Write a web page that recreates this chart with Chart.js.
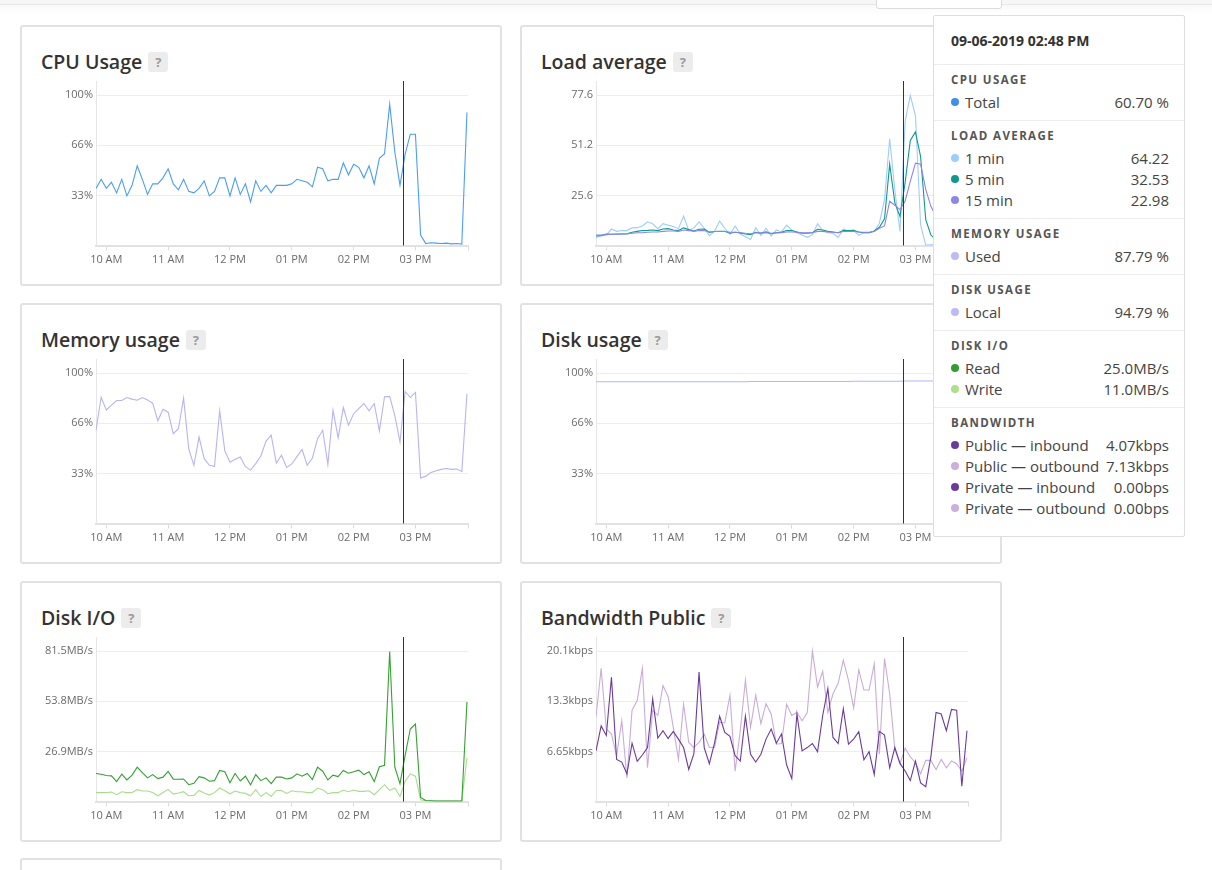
<!DOCTYPE html>
<html>
<head>
<meta charset="utf-8">
<title>Droplet graphs</title>
<script src="https://cdn.jsdelivr.net/npm/chart.js@4.4.0/dist/chart.umd.min.js"></script>
<style>
  html, body { margin: 0; padding: 0; background: #fff; overflow: hidden; }
  body { width: 1212px; height: 870px; position: relative; font-family: 'Open Sans', Lato, sans-serif; }
  .topbar { position: absolute; left: 0; top: 0; width: 1212px; height: 4px; background: #f6f6f6; border-bottom: 1px solid #e7e7e7; }
  .topshade { position: absolute; left: 0; top: 5px; width: 1212px; height: 10px; background: linear-gradient(rgba(0,0,0,0.025), rgba(0,0,0,0)); }
  .topbox { position: absolute; left: 876px; top: -4px; width: 124px; height: 11px; background: #fff; border: 1px solid #dcdcdc; border-radius: 0 0 3px 3px; }
  .panel { position: absolute; width: 482px; height: 261px; box-sizing: border-box; border: 2px solid #e2e2e2; border-radius: 3px; background: #fff; }
  .head { position: absolute; left: 19px; top: 25px; height: 20px; display: flex; align-items: center; white-space: nowrap; }
  .head .t { font-weight: 600; font-size: 19.5px; line-height: 20px; color: #333; }
  .help { margin-left: 6px; width: 20px; height: 20px; background: #ececec; border-radius: 3px; color: #9a9a9a; font-weight: 700; font-size: 13px; line-height: 20px; text-align: center; }
  .plot { position: absolute; left: -2px; top: 50px; width: 482px; height: 195px; }
  .tip { position: absolute; left: 933px; top: 15px; width: 252px; height: 522px; box-sizing: border-box; border: 1px solid #dedede; border-radius: 2px; background: #fff; color: #444; }
  .tip .date { position: absolute; left: 17px; height: 20px; line-height: 20px; font-size: 14px; font-weight: 700; color: #333; }
  .tip .sep { position: absolute; left: 0; right: 0; height: 1px; background: #ececec; }
  .tip .sec { position: absolute; left: 17px; height: 20px; line-height: 20px; font-size: 11.5px; font-weight: 700; letter-spacing: 1.4px; color: #555; }
  .tip .row { position: absolute; left: 31px; right: 15px; height: 20px; line-height: 20px; font-size: 15px; color: #444; white-space: nowrap; }
  .tip .row i { position: absolute; left: -14px; top: 6px; width: 8px; height: 8px; border-radius: 50%; }
  .tip .row b { position: absolute; right: 0; top: 0; font-weight: 400; }
</style>
</head>
<body>
<div class="topbar"></div>
<div class="topshade"></div>
<div class="topbox"></div>

<div class="panel" style="left:20px;top:25px">
  <div class="head"><span class="t">CPU Usage</span><span class="help">?</span></div>
  <div class="plot"><canvas id="cpu-chart"></canvas></div>
</div>
<div class="panel" style="left:520px;top:25px">
  <div class="head"><span class="t">Load average</span><span class="help">?</span></div>
  <div class="plot"><canvas id="load-chart"></canvas></div>
</div>
<div class="panel" style="left:20px;top:303px">
  <div class="head"><span class="t">Memory usage</span><span class="help">?</span></div>
  <div class="plot"><canvas id="memory-chart"></canvas></div>
</div>
<div class="panel" style="left:520px;top:303px">
  <div class="head"><span class="t">Disk usage</span><span class="help">?</span></div>
  <div class="plot"><canvas id="disk-chart"></canvas></div>
</div>
<div class="panel" style="left:20px;top:581px">
  <div class="head"><span class="t">Disk I/O</span><span class="help">?</span></div>
  <div class="plot"><canvas id="io-chart"></canvas></div>
</div>
<div class="panel" style="left:520px;top:581px">
  <div class="head"><span class="t">Bandwidth Public</span><span class="help">?</span></div>
  <div class="plot"><canvas id="bandwidth-chart"></canvas></div>
</div>
<div class="panel" style="left:20px;top:858px"></div>

<div class="tip">
  <div class="date" style="top:15px">09-06-2019 02:48 PM</div>
  <div class="sep" style="top:48px"></div>
  <div class="sec" style="top:54px">CPU USAGE</div>
  <div class="row" style="top:76px"><i style="background:#3d8fe8"></i>Total<b>60.70 %</b></div>
  <div class="sep" style="top:104px"></div>
  <div class="sec" style="top:110px">LOAD AVERAGE</div>
  <div class="row" style="top:132px"><i style="background:#9dcdfc"></i>1 min<b>64.22</b></div>
  <div class="row" style="top:153px"><i style="background:#10998a"></i>5 min<b>32.53</b></div>
  <div class="row" style="top:174px"><i style="background:#8c86ea"></i>15 min<b>22.98</b></div>
  <div class="sep" style="top:202px"></div>
  <div class="sec" style="top:208px">MEMORY USAGE</div>
  <div class="row" style="top:230px"><i style="background:#bdbaf6"></i>Used<b>87.79 %</b></div>
  <div class="sep" style="top:258px"></div>
  <div class="sec" style="top:264px">DISK USAGE</div>
  <div class="row" style="top:286px"><i style="background:#bdbaf6"></i>Local<b>94.79 %</b></div>
  <div class="sep" style="top:314px"></div>
  <div class="sec" style="top:320px">DISK I/O</div>
  <div class="row" style="top:342px"><i style="background:#2f9e2f"></i>Read<b>25.0MB/s</b></div>
  <div class="row" style="top:363px"><i style="background:#aedf8c"></i>Write<b>11.0MB/s</b></div>
  <div class="sep" style="top:391px"></div>
  <div class="sec" style="top:397px">BANDWIDTH</div>
  <div class="row" style="top:419px"><i style="background:#6a3b9c"></i>Public — inbound<b>4.07kbps</b></div>
  <div class="row" style="top:440px"><i style="background:#cbb0dc"></i>Public — outbound<b>7.13kbps</b></div>
  <div class="row" style="top:461px"><i style="background:#6a3b9c"></i>Private — inbound<b>0.00bps</b></div>
  <div class="row" style="top:482px"><i style="background:#cbb0dc"></i>Private — outbound<b>0.00bps</b></div>
</div>

<script>
// time axis, minutes since midnight (09:50 -> 15:51), one sample every 5 min
const startMinute = 590;
const stepMinutes = 5;
const endMinute = 951;
const hoverMinute = 888; // 02:48 PM

const hourTicks = [600, 660, 720, 780, 840, 900];
const hourLabels = ['10 AM', '11 AM', '12 PM', '01 PM', '02 PM', '03 PM'];

// y axis tick labels (three lines per graph, the top one is the value in *Top)
const percentLabels = ['33%', '66%', '100%'];
const percentTop = 100;
const loadLabels = ['25.6', '51.2', '77.6'];
const loadTop = 77.6;
const ioLabels = ['26.9MB/s', '53.8MB/s', '81.5MB/s'];
const ioTop = 81.5;
const bandwidthLabels = ['6.65kbps', '13.3kbps', '20.1kbps'];
const bandwidthTop = 20.1;

const cpuTotal = [38, 44, 38, 42, 35, 44, 33, 40, 53, 44,
  34, 41, 41, 45, 51, 41, 37, 44, 36, 35,
  38, 43, 33, 36, 45, 45, 33, 45, 34, 41,
  29, 43, 36, 40, 35, 40, 40, 40, 41, 44,
  43, 42, 39, 52, 51, 43, 44, 44, 55, 47,
  54, 52, 45, 53, 41, 58, 61, 94, 62, 40,
  60.7, 74, 74, 7, 1.3, 1.8, 1.6, 1.3, 1.6, 1.1,
  1.3, 0.9, 88.5];

const load1 = [4.2, 4.9, 5.4, 8.5, 7.3, 7.7, 7.7, 9.1, 9.2, 10.1,
  12.2, 11.2, 8.7, 11.3, 10.5, 9.8, 8.7, 15.2, 7.7, 9.1,
  12.2, 8.9, 5.1, 7.3, 12.6, 8.9, 5.8, 10.1, 5.9, 4.5,
  3.1, 9.2, 5.1, 8.9, 4.9, 8.0, 7.0, 10.5, 8.0, 6.6,
  5.4, 4.2, 5.6, 11.2, 7.7, 6.6, 6.3, 4.2, 8.5, 7.3,
  8.0, 5.2, 6.6, 6.6, 7.3, 11.5, 23.7, 55.1, 28.5, 7.2,
  64.2, 77.4, 67.0, 10.6, 0.2, 0.4, 0.3, 0.5, 0.4, 0.6,
  0.5, 0.8, 14.0];
const load5 = [4.9, 5.2, 5.9, 5.8, 5.9, 5.9, 6.1, 6.8, 7.3, 7.7,
  7.8, 8.0, 7.7, 8.5, 8.7, 8.0, 7.7, 9.1, 8.2, 7.5,
  8.4, 8.5, 6.8, 7.2, 7.3, 7.3, 6.3, 6.8, 6.5, 5.9,
  5.6, 6.8, 6.3, 7.0, 6.1, 6.6, 6.8, 7.7, 7.7, 7.0,
  6.3, 6.3, 6.6, 8.4, 8.0, 7.3, 7.0, 6.6, 7.7, 7.7,
  7.8, 7.0, 6.6, 6.6, 7.5, 9.4, 13.8, 42.0, 22.0, 15.0,
  32.5, 54.2, 58.6, 45.9, 13.3, 5.4, 2.8, 2.0, 1.6, 1.3,
  1.1, 1.0, 4.5];
const load15 = [5.4, 5.4, 5.6, 5.8, 5.8, 5.9, 5.9, 6.3, 6.6, 6.6,
  6.8, 7.0, 7.0, 7.3, 7.5, 7.5, 7.3, 8.0, 7.7, 7.3,
  7.7, 7.7, 7.0, 7.2, 7.2, 7.2, 6.8, 6.8, 6.6, 6.3,
  6.1, 6.6, 6.5, 6.6, 6.3, 6.5, 6.6, 7.0, 7.0, 6.8,
  6.5, 6.5, 6.6, 7.3, 7.3, 7.0, 6.8, 6.6, 7.2, 7.2,
  7.3, 7.0, 6.8, 6.8, 7.3, 8.9, 10.1, 22.8, 20.8, 18.5,
  23.0, 33.1, 42.5, 42.0, 29.0, 20.2, 15.0, 12.0, 10.0, 9.0,
  8.0, 7.5, 7.0];

const memoryUsed = [62, 84, 75.5, 78.7, 81.8, 81.8, 83.8, 82.7, 82, 83.8,
  82.2, 80, 68.3, 76, 74, 59.8, 63, 83.4, 49.7, 38.7,
  57.5, 43.1, 38.7, 38, 75, 48.3, 40.7, 42.7, 44.3, 37.8,
  35.5, 39.8, 44.9, 54.8, 58.7, 40.2, 45.4, 37.3, 39.6, 44.5,
  49.2, 38.7, 43.6, 56.4, 62, 39.3, 75.3, 56.9, 77.1, 65.4,
  73, 76.4, 79.8, 75, 79.8, 61.6, 84.3, 84.5, 71.7, 54.2,
  87.8, 83.8, 87.2, 30.3, 31.5, 33.9, 35.1, 36, 36.6, 36,
  36.2, 34.6, 86.3];

const diskLocal = [94.3, 94.3, 94.3, 94.3, 94.3, 94.3, 94.3, 94.3, 94.3, 94.3,
  94.3, 94.3, 94.3, 94.3, 94.3, 94.3, 94.3, 94.3, 94.3, 94.3,
  94.3, 94.3, 94.3, 94.3, 94.3, 94.3, 94.3, 94.3, 94.3, 94.3,
  94.4, 94.4, 94.4, 94.4, 94.4, 94.4, 94.4, 94.4, 94.4, 94.4,
  94.4, 94.4, 94.4, 94.4, 94.4, 94.4, 94.4, 94.4, 94.4, 94.4,
  94.6, 94.6, 94.6, 94.6, 94.6, 94.6, 94.6, 94.6, 94.6, 94.6,
  94.8, 94.8, 94.8, 94.8, 94.8, 94.8, 94.8, 94.8, 94.8, 94.8,
  94.8, 94.8, 94.8];

const diskRead = [15.2, 14.8, 14.1, 13.9, 10.8, 14.8, 11.7, 14.3, 18.6, 15.7,
  12.8, 14.6, 12.4, 13.2, 16.3, 12.1, 12.1, 12.2, 9.1, 9.9,
  13.5, 12.8, 11.0, 11.3, 16.8, 16.1, 10.2, 15.2, 11.1, 13.7,
  9.0, 14.6, 11.3, 12.8, 9.7, 13.2, 13.2, 12.2, 12.8, 15.0,
  13.7, 15.2, 11.9, 18.6, 16.4, 11.7, 14.3, 13.5, 16.8, 15.3,
  16.1, 17.0, 14.6, 16.1, 10.8, 18.8, 19.6, 81.3, 18.6, 9.7,
  25.0, 39.3, 42.0, 2.2, 0.5, 0.4, 0.2, 0.2, 0.2, 0.2,
  0.2, 0.2, 53.9];
const diskWrite = [4.8, 4.8, 4.9, 5.1, 3.7, 5.3, 4.8, 4.9, 6.4, 5.7,
  5.7, 4.9, 3.1, 4.9, 6.6, 4.0, 4.6, 5.3, 3.1, 3.3,
  6.0, 4.6, 3.5, 4.8, 7.3, 5.8, 4.2, 5.7, 4.8, 4.4,
  3.1, 6.4, 2.7, 4.8, 2.7, 6.0, 6.0, 4.4, 5.8, 5.3,
  5.3, 4.8, 4.9, 7.3, 6.4, 4.2, 4.8, 4.8, 6.2, 5.3,
  6.2, 5.5, 5.5, 5.8, 3.7, 6.4, 9.1, 6.0, 7.3, 2.7,
  11.0, 15.0, 13.7, 0.9, 0.4, 0.2, 0.2, 0.2, 0.2, 0.2,
  0.2, 0.2, 23.8];

const publicIn = [6.76, 10.1, 8.83, 16.6, 5.63, 5.27, 3.70, 7.80, 5.36, 6.22,
  7.21, 13.7, 8.47, 9.46, 8.43, 9.37, 8.34, 7.21, 4.28, 6.40,
  17.3, 7.21, 5.05, 7.80, 11.4, 9.24, 8.70, 6.13, 5.41, 11.4,
  6.31, 5.27, 6.31, 8.34, 9.69, 7.80, 9.01, 4.87, 3.06, 11.7,
  6.76, 7.21, 7.75, 6.67, 11.5, 15.1, 8.56, 7.75, 12.4, 7.66,
  8.34, 9.33, 5.59, 6.67, 3.61, 9.37, 8.88, 4.51, 7.21, 5.09,
  4.07, 2.79, 5.41, 2.48, 1.98, 6.04, 11.9, 11.7, 9.46, 12.3,
  12.2, 2.03, 9.46];
const publicOut = [11.3, 17.8, 9.69, 9.01, 6.08, 10.8, 3.15, 12.2, 13.5, 17.8,
  4.51, 12.2, 11.5, 15.5, 14.0, 9.9, 5.63, 13.0, 7.89, 7.21,
  7.89, 9.01, 7.21, 7.21, 10.6, 10.5, 14.2, 4.06, 9.46, 16.2,
  9.9, 14.2, 10.4, 13.1, 11.7, 7.66, 7.75, 13.0, 11.5, 11.9,
  10.8, 11.9, 20.1, 15.3, 17.4, 11.9, 14.4, 15.8, 18.9, 16.2,
  12.5, 17.6, 14.9, 14.9, 18.4, 6.31, 19.1, 14.4, 6.99, 5.05,
  7.13, 5.95, 5.18, 3.70, 5.50, 5.50, 4.28, 5.63, 4.51, 5.41,
  5.05, 4.06, 5.86];

Chart.defaults.font.family = "'Open Sans', Lato, sans-serif";
Chart.defaults.font.size = 11;
Chart.defaults.color = '#6b6b6b';

// pairs each sample with its time
function toPoints(values) {
  return values.map((v, i) => ({ x: startMinute + i * stepMinutes, y: v }));
}

function line(values, color) {
  return { data: toPoints(values), borderColor: color, borderWidth: 1.1, pointRadius: 0, tension: 0, fill: false };
}

// the vertical hover line
const crosshair = {
  id: 'crosshair',
  afterDatasetsDraw(chart) {
    const x = chart.scales.x.getPixelForValue(hoverMinute);
    const area = chart.chartArea;
    const ctx = chart.ctx;
    ctx.save();
    ctx.strokeStyle = '#333';
    ctx.lineWidth = 1;
    ctx.beginPath();
    ctx.moveTo(Math.round(x) + 0.5, area.top);
    ctx.lineTo(Math.round(x) + 0.5, area.bottom);
    ctx.stroke();
    ctx.restore();
  }
};

function makeChart(id, datasets, top, labels) {
  const config = {
    type: 'line',
    data: { datasets: datasets },
    options: {
      responsive: true,
      maintainAspectRatio: false,
      animation: false,
      events: [],
      layout: { padding: { top: 4, right: 34, left: 0, bottom: 0 } },
      plugins: { legend: { display: false }, tooltip: { enabled: false } },
      scales: {
        x: {
          type: 'linear',
          min: startMinute,
          max: endMinute,
          afterBuildTicks: axis => { axis.ticks = hourTicks.concat([endMinute]).map(v => ({ value: v })); },
          afterFit: axis => { axis.height = 26.5; },
          ticks: { autoSkip: false, maxRotation: 0, padding: 3, callback: (v, i) => hourLabels[i] || '' },
          grid: { drawOnChartArea: false, drawTicks: true, tickLength: 5, color: '#dcdcdc' },
          border: { color: '#e2e2e2', width: 2 }
        },
        y: {
          min: 0,
          max: top * 1.094,
          afterBuildTicks: axis => { axis.ticks = [1, 2, 3].map(k => ({ value: top * k / 3 })); },
          afterFit: axis => { axis.width = 76; axis.paddingTop = 0; axis.paddingBottom = 0; },
          ticks: { padding: 3, callback: (v, i) => labels[i] },
          grid: { drawTicks: false, color: '#ededed', lineWidth: 1 },
          border: { color: '#e6e6e6', width: 1 }
        }
      }
    },
    plugins: [crosshair]
  };
  return new Chart(document.getElementById(id).getContext('2d'), config);
}

makeChart('cpu-chart', [line(cpuTotal, '#4a9df2')], percentTop, percentLabels);
makeChart('load-chart', [
  line(load15, '#8c86ea'),
  line(load5, '#10998a'),
  line(load1, '#9dcdfc')
], loadTop, loadLabels);
makeChart('memory-chart', [line(memoryUsed, '#b7b4f6')], percentTop, percentLabels);
makeChart('disk-chart', [line(diskLocal, '#b7b4f6')], percentTop, percentLabels);
makeChart('io-chart', [
  line(diskRead, '#35a033'),
  line(diskWrite, '#a9dd8c')
], ioTop, ioLabels);
makeChart('bandwidth-chart', [
  line(publicIn, '#6a3b9c'),
  line(publicOut, '#c9acda')
], bandwidthTop, bandwidthLabels);
</script>
</body>
</html>
